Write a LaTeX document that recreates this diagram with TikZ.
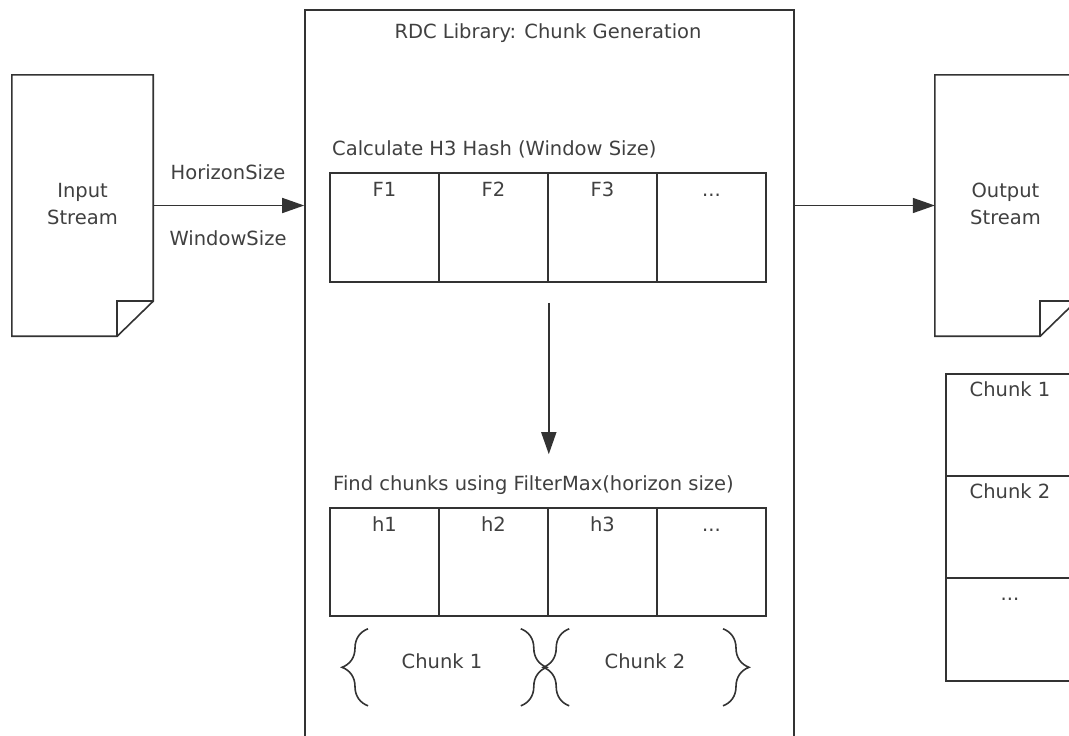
\documentclass[tikz,border=0pt]{standalone}
\usepackage{fontspec}
\setmainfont{DejaVu Sans}
\usetikzlibrary{arrows.meta,decorations.pathreplacing}
\definecolor{txt}{HTML}{404040}
\definecolor{ln}{HTML}{333333}
\newcommand{\threedots}{...}
\tikzset{
  every node/.style={font=\fontsize{19.5}{27}\selectfont, text=txt},
  ln/.style={draw=ln, line width=1.6pt},
  conn/.style={ln, -{Triangle[length=22pt,width=15pt]}},
  cell/.style={ln, fill=white, minimum width=109pt, minimum height=109pt, inner sep=0pt},
  ocell/.style={ln, fill=white, minimum width=128pt, minimum height=102pt, inner sep=0pt},
  docarea/.style={minimum width=141pt, minimum height=261pt, inner sep=0pt, align=center},
  bracestyle/.style={ln, decorate, decoration={brace, amplitude=26pt}},
  celllabel/.style={anchor=base, inner sep=0pt, yshift=-24pt},
  ocelllabel/.style={anchor=base, inner sep=0pt, yshift=-23pt},
}
\begin{document}
\begin{tikzpicture}[x=1pt,y=-1pt]
\useasboundingbox (0,0) rectangle (1069,736);
\fill[white] (0,0) rectangle (1069,736);

% Input stream document
\node[docarea] (in) at (82.5,205.5) {};
\draw[ln, fill=white] (in.north west) -- (in.north east) -- ([yshift=35pt]in.south east) -- ([xshift=-36pt]in.south east) -- (in.south west) -- cycle;
\draw[ln] ([xshift=-36pt]in.south east) -- ([xshift=-36pt,yshift=35pt]in.south east) -- ([yshift=35pt]in.south east);
\node[align=center] (intext) at (82.5,204) {Input\\Stream};

% Output stream document
\node[docarea] (out) at (1005.5,205.5) {};
\draw[ln, fill=white] (out.north west) -- (out.north east) -- ([yshift=35pt]out.south east) -- ([xshift=-36pt]out.south east) -- (out.south west) -- cycle;
\draw[ln] ([xshift=-36pt]out.south east) -- ([xshift=-36pt,yshift=35pt]out.south east) -- ([yshift=35pt]out.south east);
\node[align=center] (outtext) at (1005.5,204) {Output\\Stream};

% RDC library box
\node[ln, minimum width=489pt, minimum height=790pt, inner sep=0pt] (rdc) at (549.5,405) {};
\node (title) at (548,33) {RDC Library: Chunk Generation};

% F table
\node[anchor=west, inner sep=0pt] (calc) at (332,149) {Calculate H3 Hash (Window Size)};
\foreach \i/\t/\x in {1/F1/384.5, 2/F2/493.5, 3/F3/602.5, 4/{\threedots}/711.5}{
  \node[cell, label={[celllabel]north:\t}] (F\i) at (\x,227.5) {};
}

% h table
\node[anchor=west, inner sep=0pt] (find) at (333,485) {Find chunks using FilterMax(horizon size)};
\foreach \i/\t/\x in {1/h1/384.5, 2/h2/493.5, 3/h3/602.5, 4/{\threedots}/711.5}{
  \node[cell, minimum height=108pt, label={[celllabel]north:\t}] (h\i) at (\x,562) {};
}

% braces
\draw[bracestyle] ([xshift=-16.5pt,yshift=-89pt]h1.south) -- ([xshift=-16.5pt,yshift=-12pt]h1.south);
\draw[bracestyle] ([xshift=-28pt,yshift=-12pt]h2.south east) -- ([xshift=-28pt,yshift=-89pt]h2.south east);
\draw[bracestyle] ([xshift=22pt,yshift=-89pt]h3.south west) -- ([xshift=22pt,yshift=-12pt]h3.south west);
\draw[bracestyle] ([xshift=11.5pt,yshift=-12pt]h4.south) -- ([xshift=11.5pt,yshift=-89pt]h4.south);
\node (c1) at (442,661) {Chunk 1};
\node (c2) at (645,661) {Chunk 2};

% output chunk table
\node[ocell, label={[ocelllabel]north:Chunk 1}] (o1) at (1010,425) {};
\node[ocell, label={[ocelllabel]north:Chunk 2}] (o2) at (1010,527) {};
\node[ocell, minimum height=103pt, label={[ocelllabel]north:\threedots}] (o3) at (1010,629.5) {};

% connectors
\draw[conn] (in.east) -- (in.east -| rdc.west);
\draw[conn] (in.east -| rdc.east) -- (out.west);
\draw[conn] ([yshift=-20pt]F2.south east) -- ([yshift=53pt]h2.north east);

\node (hs) at (228,172) {HorizonSize};
\node (ws) at (228,238) {WindowSize};
\end{tikzpicture}
\end{document}
